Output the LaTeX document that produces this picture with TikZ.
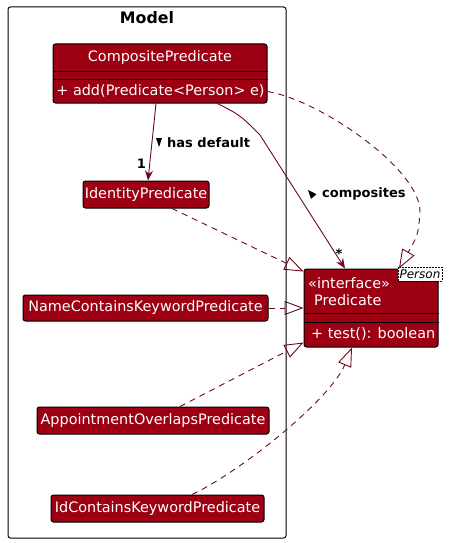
\documentclass[tikz,border=0pt]{standalone}
\usepackage{fontspec}
\setmainfont{DejaVu Sans}
\usetikzlibrary{arrows.meta,calc}
\definecolor{modelred}{HTML}{9D0012}
\definecolor{edgecol}{HTML}{6A0A1A}
\begin{document}
\begin{tikzpicture}[x=1pt,y=-1pt,
  cls/.style={draw=black, line width=1pt, fill=modelred, rounded corners=2.5pt, inner sep=0pt},
  ctext/.style={text=white, font=\fontsize{14.4}{16}\selectfont, inner sep=0pt},
  lbl/.style={font=\bfseries\fontsize{13}{15}\selectfont, inner sep=0pt},
  sep/.style={draw=black, line width=1pt},
  assoc/.style={draw=edgecol, line width=0.9pt, -{Stealth[length=10pt,width=8pt]}},
  real/.style={draw=edgecol, line width=0.9pt, dash pattern=on 6pt off 5pt, -{Triangle[open,length=19pt,width=14pt]}}]
\useasboundingbox (0,0) rectangle (448,543);

% package
\node[draw=black, line width=1pt, rounded corners=2.5pt, minimum width=278pt, minimum height=531pt, inner sep=0pt] (pkg) at (147,272.5) {};
\node[font=\bfseries\fontsize{15.8}{18}\selectfont, inner sep=0pt] (pkgtitle) at (147,18) {Model};

% CompositePredicate
\node[cls, minimum width=214pt, minimum height=59pt] (comp) at (160,73.5) {};
\draw[sep] (comp.west |- 0,71) -- (comp.east |- 0,71);
\draw[sep] (comp.west |- 0,79) -- (comp.east |- 0,79);
\node[ctext] (compname) at (160,58) {CompositePredicate};
\node[ctext] (compm) at (160.5,91) {+ add(Predicate<Person> e)};

% simple classes
\node[cls, minimum width=126pt, minimum height=27pt] (ident) at (146,194.5) {};
\node[ctext] (identt) at (146,194.5) {IdentityPredicate};
\node[cls, minimum width=245pt, minimum height=26pt] (name) at (145.5,308) {};
\node[ctext] (namet) at (145.5,308) {NameContainsKeywordPredicate};
\node[cls, minimum width=232pt, minimum height=27pt] (appt) at (153,420.5) {};
\node[ctext] (apptt) at (153,420.5) {AppointmentOverlapsPredicate};
\node[cls, minimum width=213pt, minimum height=27pt] (idc) at (157.5,508.5) {};
\node[ctext] (idct) at (157.5,508.5) {IdContainsKeywordPredicate};

% Predicate interface
\node[cls, minimum width=134pt, minimum height=78pt] (pred) at (371,308) {};
\draw[sep] (pred.west |- 0,313) -- (pred.east |- 0,313);
\draw[sep] (pred.west |- 0,322) -- (pred.east |- 0,322);
\node[ctext, anchor=west] (predst) at (308,283) {«interface»};
\node[ctext, anchor=west] (predn) at (314,300) {Predicate};
\node[ctext, anchor=west] (predm) at (311,334) {+ test(): boolean};
\node[draw=black, dash pattern=on 2pt off 1pt, fill=white, line width=0.6pt, minimum width=44pt, minimum height=14pt, inner sep=0pt, font=\itshape\fontsize{12}{14}\selectfont] (tmpl) at (420,274) {Person};

% has default
\draw[assoc] (comp.south -| 156,0) -- (ident.north -| 148,0);
\fill (156,138) -- (162,138) -- (159,147) -- cycle;
\node[lbl, anchor=west] (hasdef) at (167,143) {has default};
\node[lbl] (one) at (141.5,164) {1};

% composites
\draw[assoc] ($(comp.south west)+(165,0)$) .. controls (240,115) .. (260,135) -- (pred.north -| 345,0);
\fill (308,190) -- (316.5,194.2) -- (311,198.8) -- cycle;
\node[lbl, anchor=west] (compo) at (322,194) {composites};
\node[lbl] (star) at (339,254) {*};

% realizations
\draw[real] ($(comp.south east)+(0,-12)$) .. controls (320,100) and (422,170) .. (420,213) .. controls (418,235) .. (pred.north -| 399,0);
\draw[real] (ident.south -| 172,0) -- ($(pred.north west)+(0,3)$);
\draw[real] (name.east) -- (name.east -| pred.west);
\draw[real] (appt.north -| 180,0) -- ($(pred.south west)+(0,-5)$);
\draw[real] (idc.north -| 192,0) .. controls (240,472) and (330,400) .. (pred.south -| 352,0);
\end{tikzpicture}
\end{document}
